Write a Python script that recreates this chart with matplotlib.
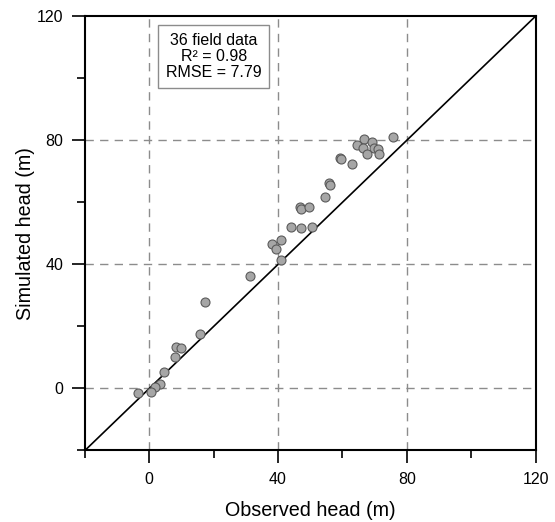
import numpy as np
import matplotlib
matplotlib.use("Agg")
import matplotlib.pyplot as plt
from matplotlib.ticker import MultipleLocator

plt.rcParams['font.family'] = ['Liberation Sans', 'DejaVu Sans']

# observed vs simulated hydraulic head at the field wells (m)
observed = [75.8, 66.8, 69.2, 64.6, 66.4, 69.7, 71.2, 67.7, 71.4, 59.1,
            59.6, 62.9, 55.8, 56.0, 54.7, 46.7, 47.1, 49.7, 43.9, 47.1,
            50.7, 40.8, 38.1, 39.4, 40.8, 31.2, 17.2, 15.7, 8.4, 9.9,
            8.0, 4.6, 3.3, 1.8, 0.4, -3.6]
simulated = [81.1, 80.3, 79.5, 78.5, 77.6, 77.6, 77.1, 75.6, 75.7, 74.4,
             74.1, 72.2, 66.1, 65.6, 61.8, 58.6, 58.0, 58.4, 52.2, 51.6,
             52.2, 47.8, 46.5, 45.1, 41.5, 36.2, 27.8, 17.7, 13.3, 13.0,
             10.1, 5.4, 1.3, 0.5, -1.1, -1.4]
stats_text = "36 field data\nR\u00b2 = 0.98\nRMSE = 7.79"

fig = plt.figure(figsize=(5.55, 5.22), dpi=100)
ax = fig.add_axes([0.153, 0.137, 0.812, 0.832])

lims = [-20, 120]
ax.plot(lims, lims, color='black', lw=1.2, zorder=2)
ax.scatter(observed, simulated, s=42, facecolor='#a6a6a6',
           edgecolor='#5a5a5a', linewidth=0.8, zorder=3)

# dashed reference grid
for v in [0, 40, 80]:
    ax.axvline(v, color='#8c8c8c', ls=(0, (6, 4.5)), lw=1.0, zorder=1)
    ax.axhline(v, color='#8c8c8c', ls=(0, (6, 4.5)), lw=1.0, zorder=1)

ax.set_xlim(lims)
ax.set_ylim(lims)
ax.xaxis.set_major_locator(MultipleLocator(40))
ax.yaxis.set_major_locator(MultipleLocator(40))
ax.xaxis.set_minor_locator(MultipleLocator(20))
ax.yaxis.set_minor_locator(MultipleLocator(20))
ax.tick_params(which='major', length=9.5, width=1.2, labelsize=11.5, pad=6)
ax.tick_params(which='minor', length=5.5, width=1.2)
for sp in ax.spines.values():
    sp.set_linewidth(1.5)

ax.set_xlabel("Observed head (m)", fontsize=14.2, labelpad=10)
ax.set_ylabel("Simulated head (m)", fontsize=14.2, labelpad=1)

ax.text(20, 107, stats_text, ha='center', va='center', fontsize=11.5,
        linespacing=1.1,
        bbox=dict(boxstyle='square,pad=0.5', facecolor='white',
                  edgecolor='#8c8c8c', linewidth=1.0), zorder=4)

fig.savefig("out.png", dpi=100)
